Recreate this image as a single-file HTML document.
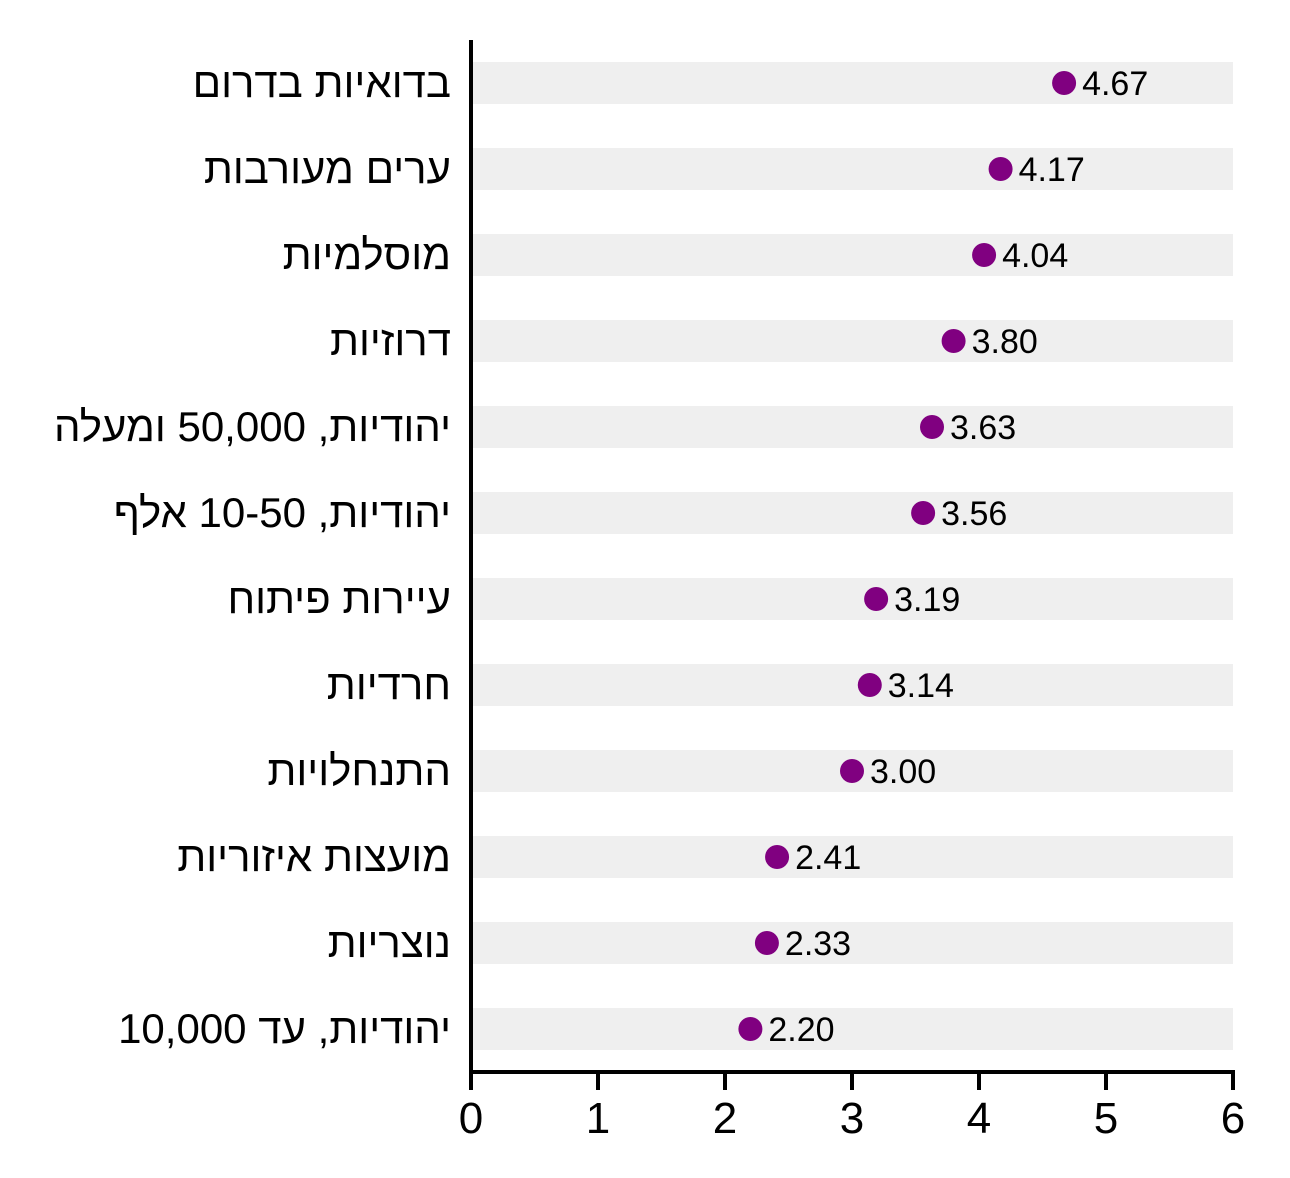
<!DOCTYPE html>
<html><head><meta charset="utf-8"><style>body{margin:0;background:#fff}</style></head><body>
<svg width="1290" height="1173" xmlns="http://www.w3.org/2000/svg" font-family="Liberation Sans, Noto Sans CJK SC, sans-serif">
<g id="rows"></g>
<line x1="471" y1="40" x2="471" y2="1074" stroke="#000" stroke-width="4"/>
<line x1="469" y1="1072" x2="1235" y2="1072" stroke="#000" stroke-width="4"/>
<g stroke="#000" stroke-width="4">
<line x1="471" y1="1072" x2="471" y2="1090"/><line x1="598" y1="1072" x2="598" y2="1090"/><line x1="725" y1="1072" x2="725" y2="1090"/><line x1="852" y1="1072" x2="852" y2="1090"/><line x1="979" y1="1072" x2="979" y2="1090"/><line x1="1106" y1="1072" x2="1106" y2="1090"/><line x1="1233" y1="1072" x2="1233" y2="1090"/>
</g>
<g font-size="44" text-anchor="middle">
<text x="471" y="1133">0</text><text x="598" y="1133">1</text><text x="725" y="1133">2</text><text x="852" y="1133">3</text><text x="979" y="1133">4</text><text x="1106" y="1133">5</text><text x="1233" y="1133">6</text>
</g>
</svg>
<script>
var d=[["בדואיות בדרום",4.67],["ערים מעורבות",4.17],["מוסלמיות",4.04],["דרוזיות",3.80],["יהודיות, 50,000 ומעלה",3.63],["יהודיות, 10-50 אלף",3.56],["עיירות פיתוח",3.19],["חרדיות",3.14],["התנחלויות",3.00],["מועצות איזוריות",2.41],["נוצריות",2.33],["יהודיות, עד 10,000",2.20]];
var g=document.getElementById('rows'),s='';
d.forEach(function(r,i){var y=83+86*i,x=471+127*r[1];
s+='<rect x="473" y="'+(y-21)+'" width="760" height="42" fill="#efefef"/>';
s+='<text x="451" y="'+(y+14)+'" font-size="42" text-anchor="start" direction="rtl" unicode-bidi="embed">'+r[0]+'</text>';
s+='<circle cx="'+x+'" cy="'+y+'" r="12" fill="#800080"/>';
s+='<text x="'+(x+18)+'" y="'+(y+12)+'" font-size="34">'+r[1].toFixed(2)+'</text>';});
g.innerHTML=s;
</script>
</body></html>
